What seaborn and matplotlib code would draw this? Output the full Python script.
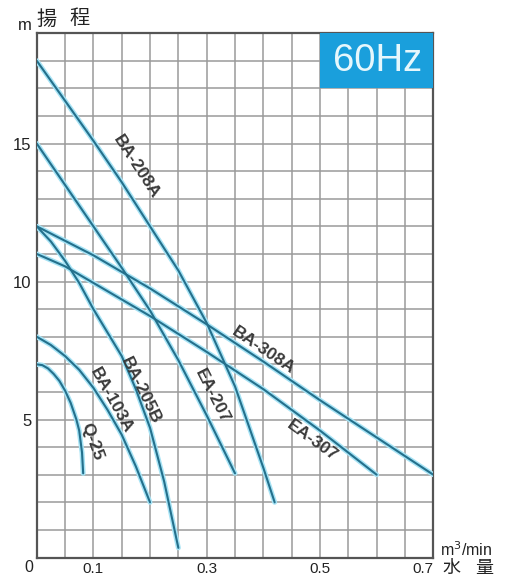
import matplotlib
matplotlib.use("Agg")
import matplotlib.pyplot as plt
import numpy as np
import seaborn as sns

# pump curves: flow q (m3/min) vs head h (m)
q_ba208a = [0.0, 0.05, 0.10, 0.15, 0.20, 0.25, 0.30, 0.35, 0.40, 0.42]
h_ba208a = [18.0, 16.55, 15.1, 13.6, 12.0, 10.4, 8.5, 6.2, 3.25, 2.0]

q_ba308a = [0.0, 0.1, 0.2, 0.3, 0.4, 0.5, 0.6, 0.7]
h_ba308a = [12.0, 10.95, 9.75, 8.45, 7.1, 5.7, 4.35, 3.0]

q_ea307 = [0.0, 0.05, 0.1, 0.2, 0.3, 0.4, 0.5, 0.6]
h_ea307 = [11.0, 10.55, 9.95, 8.75, 7.45, 6.1, 4.6, 3.0]

q_ea207 = [0.0, 0.05, 0.10, 0.15, 0.20, 0.25, 0.30, 0.35]
h_ea207 = [15.0, 13.5, 12.0, 10.5, 8.95, 7.15, 5.15, 3.05]

q_ba205b = [0.0, 0.025, 0.05, 0.075, 0.10, 0.125, 0.15, 0.175, 0.20, 0.225, 0.25]
h_ba205b = [12.0, 11.45, 10.75, 9.95, 9.0, 8.15, 7.3, 6.1, 4.7, 2.75, 0.35]

q_ba103a = [0.0, 0.025, 0.05, 0.075, 0.10, 0.125, 0.15, 0.175, 0.20]
h_ba103a = [8.0, 7.7, 7.3, 6.8, 6.15, 5.35, 4.45, 3.3, 2.0]

q_q25 = [0.0, 0.01, 0.02, 0.03, 0.04, 0.05, 0.06, 0.07, 0.075, 0.08, 0.082]
h_q25 = [7.0, 6.97, 6.85, 6.65, 6.4, 6.05, 5.6, 5.0, 4.6, 3.8, 3.05]

curves = {
    "BA-208A": (q_ba208a, h_ba208a),
    "BA-308A": (q_ba308a, h_ba308a),
    "EA-307": (q_ea307, h_ea307),
    "EA-207": (q_ea207, h_ea207),
    "BA-205B": (q_ba205b, h_ba205b),
    "BA-103A": (q_ba103a, h_ba103a),
    "Q-25": (q_q25, h_q25),
}

# label anchor (q, h, rotation)
label_pos = {
    "BA-208A": (0.175, 14.15, -57),
    "BA-308A": (0.400, 7.5, -34),
    "EA-307": (0.487, 4.25, -36),
    "EA-207": (0.310, 5.85, -63),
    "BA-205B": (0.183, 6.05, -64),
    "BA-103A": (0.131, 5.7, -61),
    "Q-25": (0.097, 4.2, -70),
}

x_ticklabels = {0.1: "0.1", 0.3: "0.3", 0.5: "0.5", 0.7: "0.7"}
y_ticklabels = {5: "5", 10: "10", 15: "15"}

sns.set_style("white")
plt.rcParams["font.family"] = ["Liberation Sans", "DejaVu Sans"]
cjk = ["Noto Sans CJK JP", "DejaVu Sans"]

fig = plt.figure(figsize=(5.12, 5.79), dpi=100)
ax = fig.add_axes([0.0717, 0.0371, 0.7746, 0.9057])

line_col = "#24708c"
glow_col = "#a6e3f5"
for name, (q, h) in curves.items():
    sns.lineplot(x=q, y=h, ax=ax, color=glow_col, lw=3.6, sort=False,
                 estimator=None, zorder=3)
    sns.lineplot(x=q, y=h, ax=ax, color=line_col, lw=1.5, sort=False,
                 estimator=None, zorder=4)
    lx, ly, rot = label_pos[name]
    ax.text(lx, ly, name, rotation=rot, rotation_mode="anchor", ha="center",
            va="center", fontsize=12.5, fontweight="bold", color="#3a3a3a",
            zorder=5)

ax.set_xlim(0, 0.7)
ax.set_ylim(0, 19)
xt = np.round(np.arange(0, 0.7001, 0.05), 2)
yt = np.arange(0, 20, 1)
ax.set_xticks(xt)
ax.set_yticks(yt)
ax.set_xticklabels([x_ticklabels.get(float(v), "") for v in xt], fontsize=11,
                   color="#222222")
ax.set_yticklabels([y_ticklabels.get(int(v), "") for v in yt], fontsize=12,
                   color="#222222")
ax.get_xticklabels()[-1].set_ha("right")
ax.tick_params(axis="x", length=0, pad=3)
ax.tick_params(axis="y", length=0, pad=4)
ax.grid(True, color="#9a9a9a", lw=1.1)
ax.set_axisbelow(True)
for sp in ax.spines.values():
    sp.set_color("#555555")
    sp.set_linewidth(1.6)
    sp.set_visible(True)

# 60Hz badge over the top right cells
ax.fill_between([0.5, 0.7], 17, 19, color="#1a9fdc", zorder=6, lw=0)
ax.text(0.602, 17.98, "60Hz", ha="center", va="center", fontsize=27.5,
        color="#e6f7fc", zorder=7)

fig.text(29 / 512, 1 - 567 / 579, "0", ha="center", va="center",
         fontsize=11.5, color="#222222")
fig.text(25 / 512, 1 - 25 / 579, "m", ha="center", va="center",
         fontsize=12, color="#222222")
fig.text(47 / 512, 1 - 19 / 579, "揚", ha="center", va="center",
         fontsize=14.5, color="#222222", family=cjk)
fig.text(80 / 512, 1 - 19 / 579, "程", ha="center", va="center",
         fontsize=14.5, color="#222222", family=cjk)
fig.text(440 / 512, 1 - 550 / 579, "m$^3$/min", ha="left", va="center",
         fontsize=11.5, color="#222222")
fig.text(451 / 512, 1 - 568 / 579, "水", ha="center", va="center",
         fontsize=13, color="#222222", family=cjk)
fig.text(484 / 512, 1 - 568 / 579, "量", ha="center", va="center",
         fontsize=13, color="#222222", family=cjk)

fig.savefig("out.png", dpi=100, facecolor="white")
plt.close(fig)
